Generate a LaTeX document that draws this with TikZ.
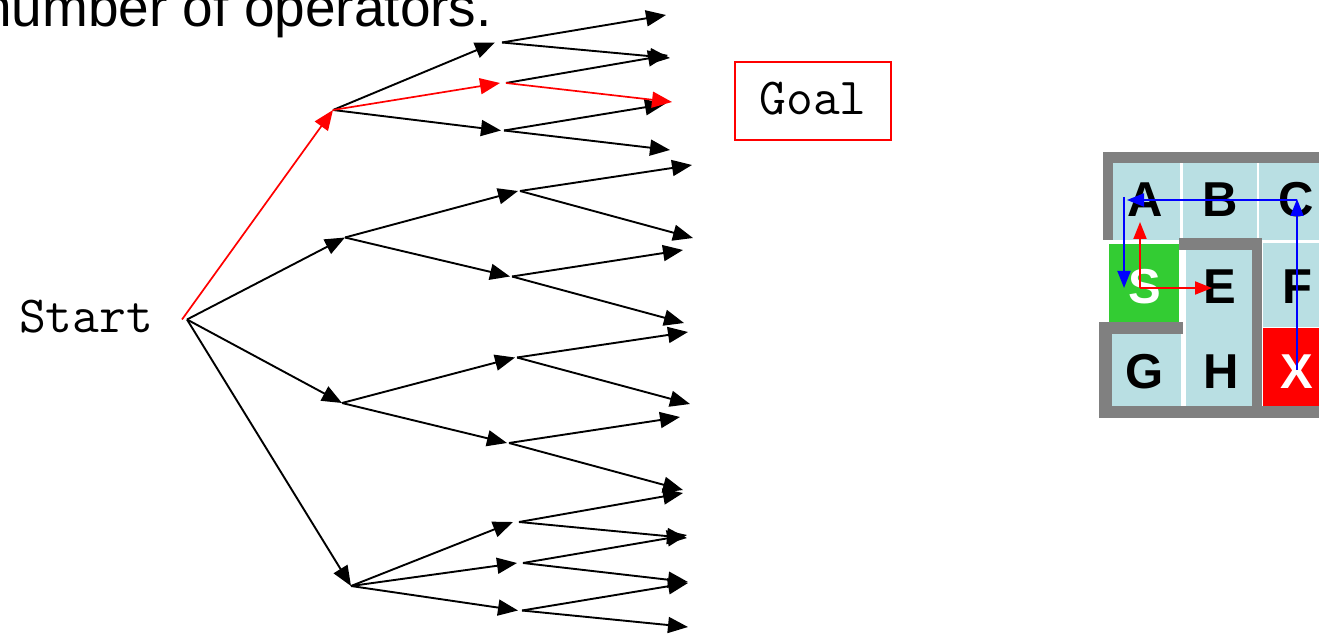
\documentclass[tikz,border=0pt]{standalone}
\usepackage{fontspec}
\setmainfont{Liberation Sans}
\usetikzlibrary{arrows.meta}
\definecolor{cellblue}{RGB}{185,223,227}
\definecolor{wallgray}{RGB}{128,128,128}
\definecolor{startgreen}{RGB}{51,204,51}
\begin{document}
\begin{tikzpicture}[x=1pt,y=-1pt,
  edge/.style={line width=1.9pt,-{Triangle[length=20pt,width=16pt]}},
  redge/.style={edge,red,line width=1.7pt},
  hub/.style={inner sep=0pt,outer sep=0pt,minimum height=0pt,minimum width=#1},
  hub/.default=0pt,
  move/.style={line width=1.9pt,-{Triangle[length=17pt,width=13pt]}},
  letter/.style={inner sep=0pt,font=\bfseries\fontsize{49}{50}\selectfont},
  mono/.style={font=\ttfamily\fontsize{52}{54}\selectfont},
  wall/.style={fill=wallgray},
  cell/.style={fill=cellblue}]
\useasboundingbox (0,0) rectangle (1319,636);

% heading fragment
\node[anchor=base east,inner sep=0pt,font=\fontsize{55}{60}\selectfont] (title) at (492,27) {number of operators.};

% labels
\node[anchor=base,inner sep=0pt,mono] (st) at (86,332) {Start};
\node[draw=red,line width=1.8pt,minimum width=156pt,minimum height=78pt,inner sep=0pt,
      text depth=6pt,mono] (goal) at (813,101) {Goal};

% search tree: root and internal points
\node[hub=5pt] (r) at (184.5,319.5) {};
\node[hub] (a1) at (333,110) {};
\node[hub] (a2) at (345,237.5) {};
\node[hub=2pt] (a3) at (342,403) {};
\node[hub=2pt] (a4) at (351,586) {};
\node[hub=7pt] (b1) at (498.5,42.5) {};
\node[hub=6pt] (b2) at (503,83) {};
\node[hub=3pt] (b3) at (502.5,130.5) {};
\node[hub=2pt] (b4) at (519,191) {};
\node[hub=2pt] (b5) at (511,276.5) {};
\node[hub=2pt] (b6) at (516,357.5) {};
\node[hub=2pt] (b7) at (508,443) {};
\node[hub=6pt] (b8) at (516,522) {};
\node[hub=6pt] (b9) at (520,563) {};
\node[hub=4pt] (b10) at (520,610.5) {};

% leaves
\coordinate (c1) at (666,15);   \coordinate (c2) at (670,58);
\coordinate (c3) at (668,55);   \coordinate (c4) at (672,102);
\coordinate (c5) at (665,104);  \coordinate (c6) at (670,150);
\coordinate (c7) at (692,165);  \coordinate (c8) at (693,238);
\coordinate (c9) at (683,250);  \coordinate (c10) at (684,323);
\coordinate (c11) at (688,332); \coordinate (c12) at (690,404);
\coordinate (c13) at (680,417); \coordinate (c14) at (683,490);
\coordinate (c15) at (683,493); \coordinate (c16) at (687,538);
\coordinate (c17) at (687,535); \coordinate (c18) at (688,582);
\coordinate (c19) at (688,583); \coordinate (c20) at (688,627);

% first level
\draw[edge] (r.east) -- (a2);
\draw[edge] (r.east) -- (a3);
\draw[edge] (r.east) -- (a4);
% second level
\draw[edge] (a1) -- (b1.west);
\draw[edge] (a1) -- (b3.west);
\draw[edge] (a2) -- (b4.west);
\draw[edge] (a2) -- (b5.west);
\draw[edge] (a3) -- (b6.west);
\draw[edge] (a3) -- (b7.west);
\draw[edge] (a4) -- (b8.west);
\draw[edge] (a4) -- (b9.west);
\draw[edge] (a4) -- (b10.west);
% third level
\draw[edge] (b1.east) -- (c1);
\draw[edge] (b1.east) -- (c2);
\draw[edge] (b2.east) -- (c3);
\draw[edge] (b3.east) -- (c5);
\draw[edge] (b3.east) -- (c6);
\draw[edge] (b4.east) -- (c7);
\draw[edge] (b4.east) -- (c8);
\draw[edge] (b5.east) -- (c9);
\draw[edge] (b5.east) -- (c10);
\draw[edge] (b6.east) -- (c11);
\draw[edge] (b6.east) -- (c12);
\draw[edge] (b7.east) -- (c13);
\draw[edge] (b7.east) -- (c14);
\draw[edge] (b8.east) -- (c15);
\draw[edge] (b8.east) -- (c16);
\draw[edge] (b9.east) -- (c17);
\draw[edge] (b9.east) -- (c18);
\draw[edge] (b10.east) -- (c19);
\draw[edge] (b10.east) -- (c20);
% solution path
\draw[redge] (r.west) -- (a1);
\draw[redge] (a1) -- (b2.west);
\draw[redge] (b2.east) -- (c4);

% maze: cells
\fill[cell] (1113,163) rectangle (1180,240);
\fill[cell] (1183,163) rectangle (1257,240);
\fill[cell] (1259,163) rectangle (1319,240);
\fill[startgreen] (1109,244) rectangle (1179,323);
\fill[cell] (1186,250) rectangle (1252,407);
\fill[cell] (1263,243) rectangle (1319,327);
\fill[red] (1263,327.5) rectangle (1319,407);
\fill[cell] (1112,334) rectangle (1181,407);
\draw[white,line width=1pt] (1182,334) -- (1182,407);
% maze: walls
\fill[wall] (1103,152) rectangle (1319,163);
\fill[wall] (1103,152) rectangle (1113,240);
\fill[wall] (1179,238) rectangle (1262,250);
\fill[wall] (1252,238) rectangle (1262,417);
\fill[wall] (1099,322) rectangle (1183,334);
\fill[wall] (1099,322) rectangle (1112,417);
\fill[wall] (1099,406) rectangle (1319,418);

% maze: labels
\node[letter] (A) at (1145,200) {A};
\node[letter] (B) at (1220,200) {B};
\node[letter] (C) at (1296,200) {C};
\node[letter,white] (S) at (1145,287) {S};
\node[letter] (E) at (1220,287) {E};
\node[letter] (F) at (1297,287) {F};
\node[letter] (G) at (1145,372) {G};
\node[letter] (H) at (1221,372) {H};
\node[letter,white] (X) at (1297,372) {X};

% maze: moves
\coordinate (xo) at (1297,370);
\coordinate (ci) at (1297,199);
\coordinate (co) at (1297,200);
\coordinate (ai) at (1127,200);
\coordinate (ao) at (1124,197);
\coordinate (si) at (1124,288);
\coordinate (so) at (1140,288);
\coordinate (au) at (1140,222);
\coordinate (ei) at (1212,288);
\draw[move,blue] (xo) -- (ci);
\draw[move,blue] (co) -- (ai);
\draw[move,blue] (ao) -- (si);
\draw[move,red] (so) -- (au);
\draw[move,red] (so) -- (ei);
\end{tikzpicture}
\end{document}
